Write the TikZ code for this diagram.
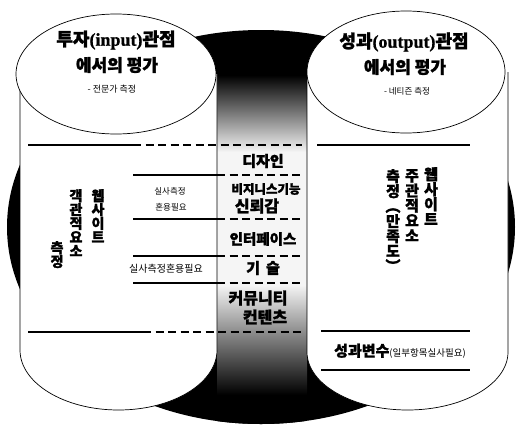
\documentclass[tikz,border=0pt]{standalone}
\usepackage{fontspec}
\newfontfamily\kr{Noto Sans CJK KR}[BoldFeatures={FakeBold=1.5}]
\newfontfamily\ser{Liberation Serif}[BoldFeatures={FakeBold=1}]
\begin{document}
\begin{tikzpicture}[x=1pt,y=-1pt,
  cyl/.style={draw=black, line width=0.7pt},
  sline/.style={line width=1.8pt},
  dline/.style={line width=2pt, dash pattern=on 8pt off 4.5pt},
  ttl/.style={inner sep=0, font=\kr\bfseries\fontsize{18}{20}\selectfont},
  sub/.style={inner sep=0, font=\kr\bfseries\fontsize{17}{19}\selectfont},
  small/.style={inner sep=0, font=\kr\fontsize{8.5}{10}\selectfont},
  mid/.style={inner sep=0, font=\kr\bfseries\fontsize{15}{17}\selectfont},
  vert/.style={inner sep=0, anchor=north, align=center, font=\kr\bfseries\fontsize{14}{13.8}\selectfont},
  vertr/.style={inner sep=0, anchor=north, align=center, font=\kr\bfseries\fontsize{15}{15}\selectfont}
]
\useasboundingbox (0,0) rectangle (517,426);
% big black background ellipse
\fill[black] (261,227) ellipse [x radius=254, y radius=197];
% centre column shading
\begin{scope}
  \clip (261,227) ellipse [x radius=254, y radius=197];
  \shade[top color=black, bottom color=gray!8] (217,75) rectangle (307,152);
  \fill[gray!8] (217,152) rectangle (307,285);
  \shade[top color=gray!8, bottom color=black] (217,285) rectangle (307,395);
  \fill[black] (217,395) rectangle (307,430);
\end{scope}
% left cylinder
\fill[white] (20,74) -- (20,350) .. controls (20,383.1) and (64.1,410) .. (118.5,410)
  .. controls (172.9,410) and (217,383.1) .. (217,350) -- (217,74) -- cycle;
\draw[cyl] (20,74) -- (20,350) .. controls (20,383.1) and (64.1,410) .. (118.5,410)
  .. controls (172.9,410) and (217,383.1) .. (217,350) -- (217,74);
\draw[cyl, fill=white] (116,74) ellipse [x radius=100, y radius=60];
% right cylinder
\fill[white] (307,72) -- (307,352) .. controls (307,384) and (352,410) .. (407.5,410)
  .. controls (463,410) and (508,384) .. (508,352) -- (508,72) -- cycle;
\draw[cyl] (307,72) -- (307,352) .. controls (307,384) and (352,410) .. (407.5,410)
  .. controls (463,410) and (508,384) .. (508,352) -- (508,72);
\draw[cyl, fill=white] (406,72) ellipse [x radius=99, y radius=61];
% separator lines
\draw[sline] (28,145) -- (133,145);
\draw[dline] (133,145) -- (302,145);
\foreach \yy in {175,219,256,283} {
  \draw[sline] (133,\yy) -- (217,\yy);
  \draw[dline] (217,\yy) -- (302,\yy);
}
\draw[sline] (28,332) -- (143,332);
\draw[dline] (143,332) -- (305,332);
\draw[sline] (317,145) -- (470,145);
\draw[sline] (321,331) -- (470,331);
\draw[sline] (321,370) -- (470,370);
% titles
\node[ttl] (t1) at (116,40) {투자{\ser\bfseries(input)}관점};
\node[sub] (t2) at (117,65) {에서의 평가};
\node[small, font=\kr\fontsize{9}{10}\selectfont] (t3) at (112,89) {- 전문가 측정};
\node[ttl] (r1) at (404,42) {성과{\ser\bfseries(output)}관점};
\node[sub] (r2) at (405,67) {에서의 평가};
\node[small] (r3) at (407,91) {- 네티즌 측정};
% centre column labels
\node[mid] (c1) at (263,161) {디자인};
\node[mid, font=\kr\bfseries\fontsize{12.5}{14}\selectfont] (c2) at (266,189) {비지니스기능};
\node[mid, font=\kr\bfseries\fontsize{16}{18}\selectfont] (c3) at (257,206) {신뢰감};
\node[mid, font=\kr\bfseries\fontsize{14.5}{16}\selectfont] (c4) at (263,239) {인터페이스};
\node[mid] (c5) at (263,268) {기\hspace{6pt}술};
\node[mid, font=\kr\bfseries\fontsize{16}{18}\selectfont] (c6) at (258,298) {커뮤니티};
\node[mid, font=\kr\bfseries\fontsize{16}{18}\selectfont] (c7) at (265,317) {컨텐츠};
% left notes
\node[small] (n1) at (170,191) {실사측정};
\node[small] (n2) at (171,207) {혼용필요};
\node[small, font=\kr\fontsize{10}{11}\selectfont] (n3) at (166,269) {실사측정혼용필요};
% left vertical texts
\node[vert] (lv1) at (98,189) {웹\\사\\이\\트};
\node[vert] (lv2) at (76,189) {객\\관\\적\\요\\소};
\node[vert] (lv3) at (57,241) {측\\정};
% right vertical texts
\node[vertr] (rv1) at (431,167) {웹\\사\\이\\트};
\node[vertr] (rv2) at (412,169) {주\\관\\적\\요\\소};
\node[vertr] (rv3) at (393,169) {측\\정\\︵\\만\\족\\도\\︶};
% outcome variable
\node[inner sep=0, anchor=west] (ov) at (334,351)
  {{\kr\bfseries\fontsize{15}{17}\selectfont 성과변수}{\kr\fontsize{9.5}{11}\selectfont(일부항목실사필요)}};
\end{tikzpicture}
\end{document}
